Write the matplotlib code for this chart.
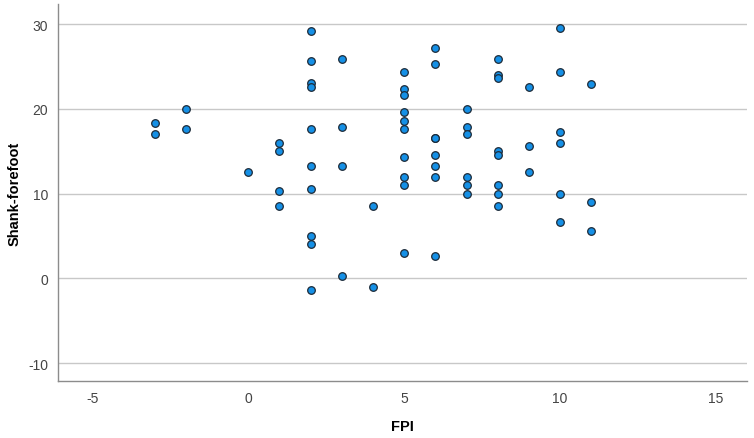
import numpy as np
import matplotlib
matplotlib.use('Agg')
import matplotlib.pyplot as plt

# FPI scores and the shank-forefoot values
fpi = [-3, -3, -2, -2, 0,
       1, 1, 1, 1,
       2, 2, 2, 2, 2, 2, 2, 2, 2, 2,
       3, 3, 3, 3,
       4, 4,
       5, 5, 5, 5, 5, 5, 5, 5, 5, 5,
       6, 6, 6, 6, 6, 6, 6, 6,
       7, 7, 7, 7, 7, 7,
       8, 8, 8, 8, 8, 8, 8, 8,
       9, 9, 9,
       10, 10, 10, 10, 10, 10,
       11, 11, 11]
shank_forefoot = [18.3, 17.0, 20.0, 17.6, 12.6,
                  16.0, 15.0, 10.3, 8.6,
                  29.2, 25.6, 23.0, 22.6, 17.6, 13.3, 10.6, 5.0, 4.0, -1.35,
                  25.9, 17.9, 13.3, 0.3,
                  8.6, -1.0,
                  24.3, 22.3, 21.6, 19.6, 18.6, 17.6, 14.3, 12.0, 11.0, 3.0,
                  27.2, 25.3, 16.6, 16.6, 14.6, 13.3, 12.0, 2.6,
                  20.0, 17.9, 17.0, 12.0, 11.0, 10.0,
                  25.9, 24.0, 23.6, 15.0, 14.6, 11.0, 10.0, 8.6,
                  22.6, 15.6, 12.6,
                  29.6, 24.3, 17.3, 16.0, 10.0, 6.65,
                  22.9, 9.0, 5.6]

x_ticks = [-5, 0, 5, 10, 15]
y_ticks = [-10, 0, 10, 20, 30]

plt.rcParams['font.family'] = ['Liberation Sans', 'DejaVu Sans']
plt.rcParams['axes.unicode_minus'] = False

fig = plt.figure(figsize=(7.54, 4.39), dpi=100)
ax = fig.add_axes([0.077, 0.130, 0.914, 0.859])

ax.scatter(fpi, shank_forefoot, s=30, color='#1590e6', edgecolors='#1c2a38',
           linewidths=0.9, zorder=3)

ax.set_xlim(-6.1, 16.0)
ax.set_ylim(-12.1, 32.4)
ax.set_xticks(x_ticks)
ax.set_yticks(y_ticks)

ax.grid(axis='y', color='#c8c8c8', linewidth=1.0)
ax.set_axisbelow(True)
for side in ['top', 'right']:
    ax.spines[side].set_visible(False)
for side in ['left', 'bottom']:
    ax.spines[side].set_color('#8c8c8c')
    ax.spines[side].set_linewidth(1.0)

ax.tick_params(length=0, labelsize=10, labelcolor='#444444', pad=7)
ax.set_xlabel('FPI', fontsize=10.5, fontweight='bold', labelpad=10)
ax.set_ylabel('Shank-forefoot', fontsize=10.5, fontweight='bold', labelpad=5)

fig.savefig('out.png', dpi=100)
